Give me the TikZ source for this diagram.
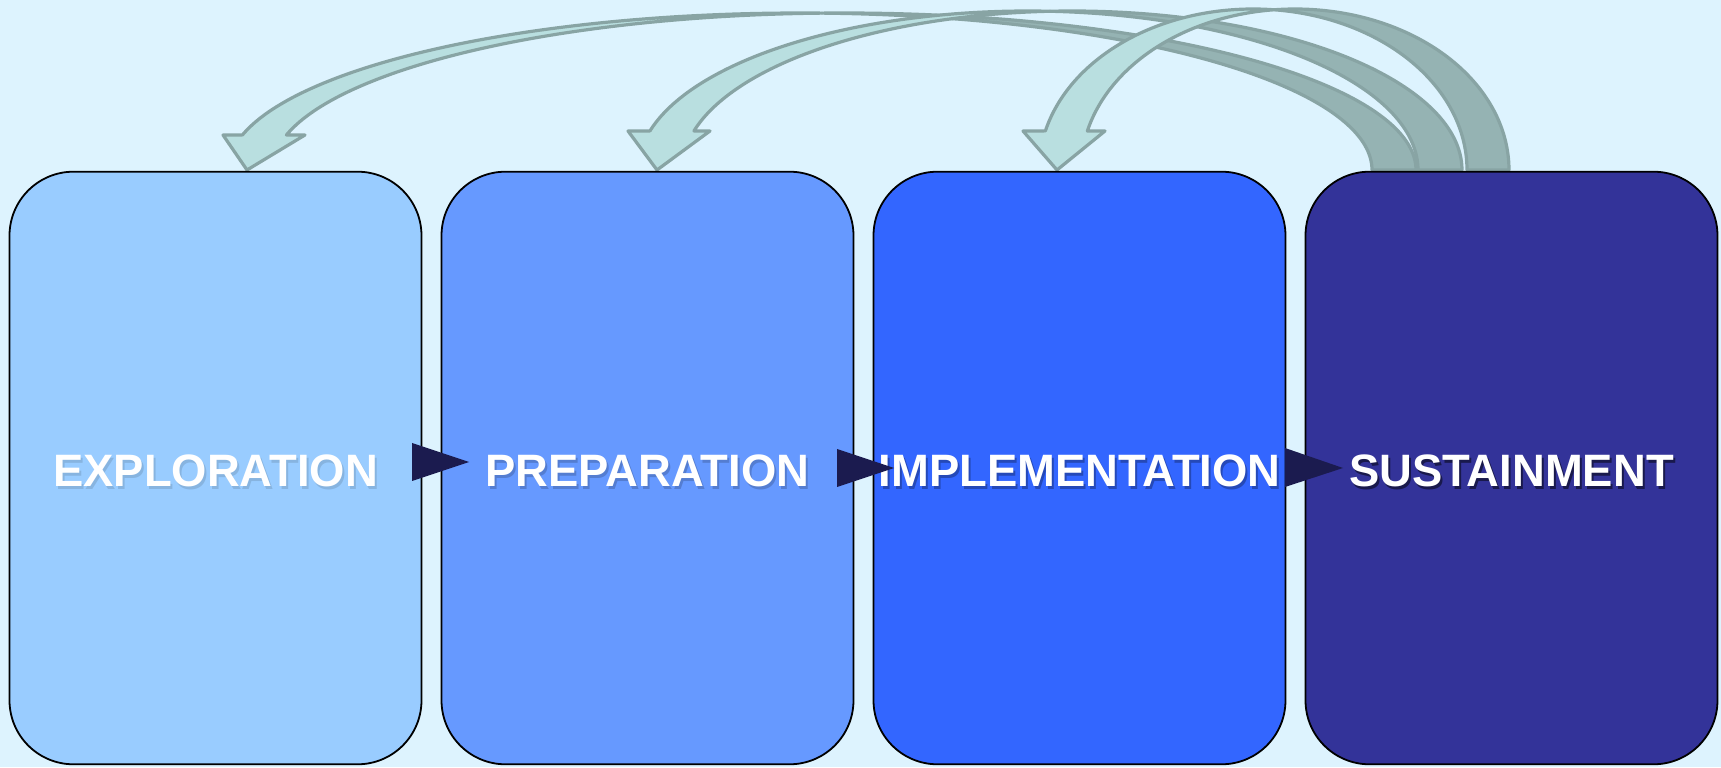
\documentclass[tikz,border=0pt]{standalone}
\usepackage{fontspec}
\setmainfont{Liberation Sans}
\usetikzlibrary{calc}
\definecolor{bgc}{HTML}{DDF3FE}
\definecolor{c1}{HTML}{99CCFF}
\definecolor{c2}{HTML}{6699FF}
\definecolor{c3}{HTML}{3366FF}
\definecolor{c4}{HTML}{333399}
\definecolor{navyc}{HTML}{1B1B4F}
\definecolor{arrline}{HTML}{88A4A4}
\definecolor{arrfacec}{HTML}{B9DFE0}
\definecolor{arrbackc}{HTML}{95B3B3}
\newcommand\shtext[2]{\makebox[0pt][l]{\kern1pt\raisebox{-1pt}[0pt][0pt]{\textcolor{#1}{#2}}}#2}
% #1 c, #2 A, #3 B, #4 w, #5 head y (px from top), #6 left barb x, #7 right barb x, #8 tip x
\newcommand\curvarrow[8]{%
  \pgfmathsetmacro\cvH{180-asin((170-#5)/#3)}%
  \pgfmathsetmacro\cvA{acos(#4/(2*#2))}%
  \pgfmathsetmacro\cvB{180-\cvA}%
  \pgfmathsetmacro\cvW{#1+#4}%
  \pgfmathsetmacro\cvY{767-#5}%
  \draw[arrowface] plot[domain=0:1,samples=90] ({#1+#2*cos(\cvA+(\cvH-\cvA)*\x)},{597+#3*sin(\cvA+(\cvH-\cvA)*\x)})
     -- (#6,\cvY) -- (#8,597) -- (#7,\cvY)
     -- plot[domain=0:1,samples=90] ({\cvW+#2*cos(\cvH+(\cvB-\cvH)*\x)},{597+#3*sin(\cvH+(\cvB-\cvH)*\x)}) -- cycle;
  \draw[arrowback] plot[domain=0:1,samples=90] ({\cvW+#2*cos(\cvB*(1-\x))},{597+#3*sin(\cvB*(1-\x))})
     -- plot[domain=0:1,samples=90] ({#1+#2*cos(\cvA*\x)},{597+#3*sin(\cvA*\x)}) -- cycle;
}
\begin{document}
\begin{tikzpicture}[x=0.5pt,y=0.5pt,
  phase/.style={draw=black, line width=0.9pt, rounded corners=32pt,
    minimum width=206pt, minimum height=296.3pt, inner sep=0pt, outer sep=0pt,
    text height=19pt, text depth=0pt,
    text=white, font=\fontsize{22.7}{26}\selectfont\bfseries},
  arrowface/.style={fill=arrfacec, draw=arrline, line width=1.6pt, line join=round},
  arrowback/.style={fill=arrbackc, draw=arrline, line width=1.6pt, line join=round},
  tri/.style={fill=navyc}]
\useasboundingbox (0,0) rectangle (1721,767);
\fill[bgc] (0,0) rectangle (1721,767);
% curved feedback arrows from Sustainment
\curvarrow{800}{572}{157}{44}{135}{223}{305}{247}
\curvarrow{1028}{390}{159}{44}{131}{628}{710}{657}
\curvarrow{1253}{214}{161}{42}{131}{1023}{1105}{1057}
% phases
\node[phase, fill=c1] (expl) at (215.5,299) {\shtext{c1!88!black}{EXPLORATION}};
\node[phase, fill=c2] (prep) at (647.5,299) {\shtext{c2!82!black}{PREPARATION}};
\node[phase, fill=c3] (impl) at (1079.5,299) {\shtext{c3!72!black}{IMPLEMENTATION}};
\node[phase, fill=c4] (sust) at (1511.5,299) {\shtext{c4!50!black}{SUSTAINMENT}};
% forward triangles
\fill[tri] ($(expl.east)+(-9.5,25)$) -- ($(expl.east)+(47.5,6)$) -- ($(expl.east)+(-9.5,-13)$) -- cycle;
\fill[tri] ($(prep.east)+(-16.5,19)$) -- ($(prep.east)+(40.5,0)$) -- ($(prep.east)+(-16.5,-19)$) -- cycle;
\fill[tri] ($(impl.east)+(-0.5,20)$) -- ($(impl.east)+(57.5,0)$) -- ($(impl.east)+(-0.5,-19)$) -- cycle;
\end{tikzpicture}
\end{document}
